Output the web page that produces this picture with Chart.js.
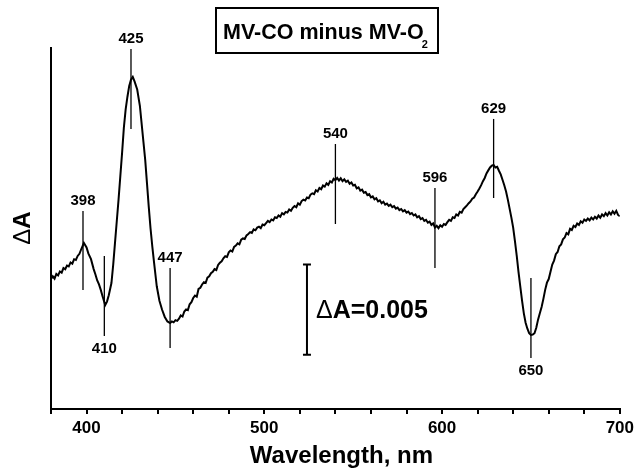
<!DOCTYPE html>
<html>
<head>
<meta charset="utf-8">
<script src="https://cdn.jsdelivr.net/npm/chart.js@4.4.0/dist/chart.umd.min.js"></script>
<style>
  html, body { margin: 0; padding: 0; background: #fff; }
  #wrap { width: 638px; height: 476px; }
</style>
</head>
<body>
<div id="wrap"><canvas id="chartSpektrum" width="638" height="476"></canvas></div>
<script>
// data spektrum beda MV-CO minus MV-O2
const wavelength = [
  380, 381, 382, 383, 384, 385, 386, 387, 388, 389, 390, 391, 392, 393, 394, 395, 396, 397, 398.5,
  400, 401, 402.5, 404, 405, 406, 407, 408, 409, 410.5, 411.5, 412.5, 414, 415, 416, 417, 418, 419,
  420, 421, 422, 423, 424, 425, 426, 427, 428.5, 430, 431, 432, 433, 434, 435, 436, 437, 438, 439.5,
  441, 442.5, 444, 445.5, 447, 448, 449, 450, 451, 452, 453, 454, 455, 456, 457, 458, 459,
  460, 461, 462, 463, 464, 465, 466, 467, 468, 469, 470, 471, 472, 473, 474, 475, 476, 477, 478, 479,
  480, 481, 482, 483, 484, 485, 486, 487, 488, 489, 490, 491, 492, 493, 494, 495, 496, 497, 498, 499,
  500, 501, 502, 503, 504, 505, 506, 507, 508, 509, 510, 511, 512, 513, 514, 515, 516, 517, 518, 519,
  520, 521, 522, 523, 524, 525, 526, 527, 528, 529, 530, 531, 532, 533, 534, 535, 536, 537, 538, 539,
  540, 541, 542, 543, 544, 545, 546, 547, 548, 549, 550, 551, 552, 553, 554, 555, 556, 557, 558, 559,
  560, 561, 562, 563, 564, 565, 566, 567, 568, 569, 570, 571, 572, 573, 574, 575, 576, 577, 578, 579,
  580, 581, 582, 583, 584, 585, 586, 587, 588, 589, 590, 591, 592, 593, 594, 595, 596, 597, 598, 599,
  600, 601, 602, 603, 604, 605, 606, 607, 608, 609, 610, 611, 612, 613, 614, 615, 616, 617, 618, 619,
  620, 621, 622, 623, 624, 625, 626, 627, 628, 629, 630, 631, 632, 633, 634, 635, 636, 637, 638, 639,
  640, 641, 642, 643, 644, 645, 646, 647, 648, 649, 650, 651, 652, 653, 654, 655, 656, 657, 658, 659,
  660, 661, 662, 663, 664, 665, 666, 667, 668, 669, 670, 671, 672, 673, 674, 675, 676, 677, 678, 679,
  680, 681, 682, 683, 684, 685, 686, 687, 688, 689, 690, 691, 692, 693, 694, 695, 696, 697, 698, 699,
  700
];
const deltaA = [
  0.00720, 0.00735, 0.00722, 0.00748, 0.00740, 0.00762, 0.00755, 0.00781, 0.00774, 0.00795, 0.00790, 0.00812, 0.00805, 0.00830, 0.00826, 0.00848, 0.00860, 0.00885, 0.00920,
  0.00895, 0.00862, 0.00830, 0.00775, 0.00745, 0.00712, 0.00690, 0.00660, 0.00625, 0.00576, 0.00595, 0.00630, 0.00698, 0.00800, 0.00920, 0.01040, 0.01160, 0.01290,
  0.01420, 0.01560, 0.01660, 0.01730, 0.01790, 0.01825, 0.01840, 0.01815, 0.01770, 0.01680, 0.01580, 0.01480, 0.01380, 0.01250, 0.01120, 0.01000, 0.00900, 0.00810, 0.00680,
  0.00600, 0.00550, 0.00510, 0.00485, 0.00476, 0.00485, 0.00480, 0.00492, 0.00488, 0.00500, 0.00518, 0.00512, 0.00540, 0.00552, 0.00548, 0.00580, 0.00592,
  0.00615, 0.00628, 0.00622, 0.00665, 0.00672, 0.00690, 0.00702, 0.00698, 0.00728, 0.00735, 0.00752, 0.00760, 0.00775, 0.00770, 0.00798, 0.00810, 0.00818, 0.00835, 0.00846, 0.00842,
  0.00868, 0.00878, 0.00872, 0.00898, 0.00905, 0.00918, 0.00912, 0.00938, 0.00945, 0.00942, 0.00962, 0.00970, 0.00980, 0.00975, 0.00995, 0.00990, 0.01005, 0.01010, 0.01002, 0.01022,
  0.01018, 0.01030, 0.01042, 0.01035, 0.01050, 0.01045, 0.01062, 0.01058, 0.01072, 0.01065, 0.01085, 0.01078, 0.01092, 0.01088, 0.01105, 0.01098, 0.01115, 0.01125, 0.01118, 0.01140,
  0.01132, 0.01152, 0.01160, 0.01155, 0.01172, 0.01168, 0.01188, 0.01195, 0.01190, 0.01212, 0.01205, 0.01225, 0.01218, 0.01238, 0.01232, 0.01250, 0.01242, 0.01262, 0.01255, 0.01275,
  0.01268, 0.01280, 0.01266, 0.01278, 0.01262, 0.01272, 0.01258, 0.01265, 0.01248, 0.01255, 0.01238, 0.01242, 0.01222, 0.01228, 0.01210, 0.01215, 0.01198, 0.01202, 0.01185, 0.01190,
  0.01172, 0.01178, 0.01162, 0.01168, 0.01150, 0.01156, 0.01140, 0.01148, 0.01132, 0.01138, 0.01125, 0.01132, 0.01118, 0.01124, 0.01110, 0.01116, 0.01102, 0.01108, 0.01095, 0.01102,
  0.01088, 0.01094, 0.01080, 0.01086, 0.01072, 0.01078, 0.01062, 0.01068, 0.01052, 0.01058, 0.01042, 0.01048, 0.01032, 0.01038, 0.01020, 0.01028, 0.01005, 0.01015, 0.01002, 0.01018,
  0.01010, 0.01025, 0.01020, 0.01035, 0.01048, 0.01042, 0.01062, 0.01058, 0.01078, 0.01072, 0.01092, 0.01088, 0.01108, 0.01118, 0.01128, 0.01140, 0.01150, 0.01165, 0.01172, 0.01190,
  0.01205, 0.01222, 0.01240, 0.01262, 0.01280, 0.01305, 0.01322, 0.01338, 0.01348, 0.01352, 0.01338, 0.01342, 0.01320, 0.01300, 0.01270, 0.01240, 0.01205, 0.01160, 0.01110, 0.01060,
  0.01005, 0.00930, 0.00850, 0.00760, 0.00680, 0.00600, 0.00530, 0.00478, 0.00445, 0.00420, 0.00410, 0.00412, 0.00420, 0.00450, 0.00495, 0.00530, 0.00565, 0.00610, 0.00660, 0.00700,
  0.00720, 0.00760, 0.00800, 0.00822, 0.00858, 0.00870, 0.00902, 0.00912, 0.00940, 0.00950, 0.00975, 0.00968, 0.00998, 0.00992, 0.01015, 0.01008, 0.01028, 0.01020, 0.01040, 0.01032,
  0.01050, 0.01042, 0.01055, 0.01045, 0.01060, 0.01050, 0.01065, 0.01055, 0.01072, 0.01060, 0.01078, 0.01068, 0.01085, 0.01072, 0.01090, 0.01078, 0.01095, 0.01082, 0.01098, 0.01075,
  0.01068
];

// penanda puncak / lembah
const markerNm     = [398, 410, 425, 447, 540, 596, 629, 650];
const markerTop    = [0.01097, 0.00848, 0.01994, 0.00781, 0.01468, 0.01224, 0.01607, 0.00726];
const markerBottom = [0.00659, 0.00404, 0.01551, 0.00338, 0.01025, 0.00781, 0.01169, 0.00283];
const markerBelow  = [false, true, false, false, false, false, false, true];

// batang skala ΔA = 0.005
const scaleBarNm = 524;
const scaleBarRange = [0.003, 0.008];
const scaleBarLabel = '0.005';

const titleText = 'MV-CO minus MV-O';
const xTitle = 'Wavelength, nm';

const FONT = '"Liberation Sans", Arial, sans-serif';

const annotasi = {
    id: 'annotasi',
    afterDraw(chart) {
        const { ctx, scales: { x, y } } = chart;
        ctx.save();
        ctx.strokeStyle = '#000';
        ctx.fillStyle = '#000';

        // garis penanda + angka
        ctx.lineWidth = 1.3;
        ctx.font = 'bold 15px ' + FONT;
        ctx.textAlign = 'center';
        ctx.textBaseline = 'alphabetic';
        markerNm.forEach((nm, i) => {
            const px = x.getPixelForValue(nm);
            const yTop = y.getPixelForValue(markerTop[i]);
            const yBot = y.getPixelForValue(markerBottom[i]);
            ctx.beginPath();
            ctx.moveTo(px, yTop);
            ctx.lineTo(px, yBot);
            ctx.stroke();
            if (markerBelow[i]) ctx.fillText(String(nm), px, yBot + 17);
            else ctx.fillText(String(nm), px, yTop - 6);
        });

        // batang skala
        const bx = x.getPixelForValue(scaleBarNm);
        const b0 = y.getPixelForValue(scaleBarRange[0]);
        const b1 = y.getPixelForValue(scaleBarRange[1]);
        ctx.lineWidth = 2;
        ctx.beginPath();
        ctx.moveTo(bx, b0); ctx.lineTo(bx, b1);
        ctx.moveTo(bx - 4, b0); ctx.lineTo(bx + 4, b0);
        ctx.moveTo(bx - 4, b1); ctx.lineTo(bx + 4, b1);
        ctx.stroke();
        ctx.textAlign = 'left';
        ctx.textBaseline = 'middle';
        let tx = bx + 9;
        const ty = (b0 + b1) / 2 + 1;
        ctx.font = '25px ' + FONT;
        ctx.fillText('Δ', tx, ty);
        tx += ctx.measureText('Δ').width;
        ctx.font = 'bold 25px ' + FONT;
        ctx.fillText('A=' + scaleBarLabel, tx, ty);

        // kotak judul
        ctx.lineWidth = 2;
        ctx.strokeRect(216, 8, 222, 45);
        ctx.textBaseline = 'alphabetic';
        ctx.font = 'bold 21.5px ' + FONT;
        ctx.fillText(titleText, 223, 39);
        const tw = ctx.measureText(titleText).width;
        ctx.font = 'bold 11px ' + FONT;
        ctx.fillText('2', 223 + tw - 2, 48);

        // judul sumbu x
        ctx.textAlign = 'center';
        ctx.font = 'bold 24px ' + FONT;
        ctx.fillText(xTitle, (chart.chartArea.left + chart.chartArea.right) / 2 + 6, 463);

        // judul sumbu y (diputar)
        ctx.translate(30, 228);
        ctx.rotate(-Math.PI / 2);
        ctx.font = '24px ' + FONT;
        const wD = ctx.measureText('Δ').width;
        ctx.font = 'bold 24px ' + FONT;
        const wA = ctx.measureText('A').width;
        ctx.textAlign = 'left';
        ctx.font = '24px ' + FONT;
        ctx.fillText('Δ', -(wD + wA) / 2, 0);
        ctx.font = 'bold 24px ' + FONT;
        ctx.fillText('A', -(wD + wA) / 2 + wD, 0);

        ctx.restore();
    }
};

document.addEventListener('DOMContentLoaded', function () {
    const ctxSpektrum = document.getElementById('chartSpektrum');
    new Chart(ctxSpektrum, {
        type: 'line',
        data: {
            datasets: [{
                data: wavelength.map((w, i) => ({ x: w, y: deltaA[i] })),
                borderColor: '#000',
                borderWidth: 2,
                pointRadius: 0,
                tension: 0,
                fill: false
            }]
        },
        options: {
            responsive: false,
            animation: false,
            events: [],
            layout: { padding: { left: 51, top: 48, right: 17, bottom: 22 } },
            plugins: { legend: { display: false }, tooltip: { enabled: false } },
            scales: {
                x: {
                    type: 'linear',
                    min: 380,
                    max: 700,
                    afterFit: s => { s.height = 45; },
                    grid: { display: true, drawOnChartArea: false, drawTicks: true, tickLength: 5, color: '#000', lineWidth: 2 },
                    border: { display: true, color: '#000', width: 2 },
                    ticks: {
                        stepSize: 20,
                        autoSkip: false,
                        maxRotation: 0,
                        padding: 4,
                        color: '#000',
                        font: { family: FONT, size: 17, weight: 'bold' },
                        callback: v => (v % 100 === 0 ? v : '')
                    }
                },
                y: {
                    type: 'linear',
                    min: 0,
                    max: 0.02,
                    afterFit: s => { s.width = 0; },
                    grid: { display: false },
                    border: { display: true, color: '#000', width: 2 },
                    ticks: { display: false }
                }
            }
        },
        plugins: [annotasi]
    });
});
</script>
</body>
</html>
